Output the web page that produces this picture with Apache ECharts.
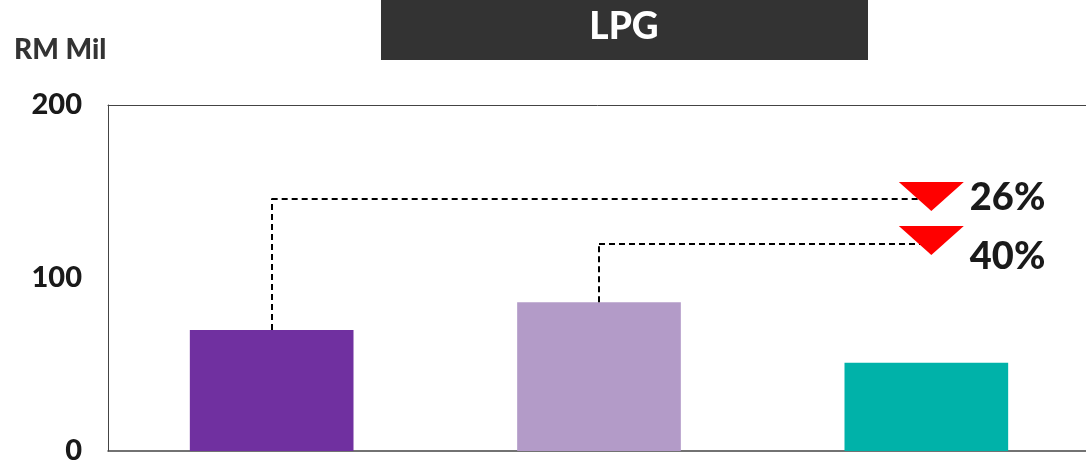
<!DOCTYPE html>
<html>
<head>
<meta charset="utf-8">
<script src="https://cdn.jsdelivr.net/npm/echarts@6/dist/echarts.min.js"></script>
<style>
  html, body { margin: 0; padding: 0; background: #fff; }
  #chart { width: 1086px; height: 462px; }
</style>
</head>
<body>
<div id="chart"></div>
<script>
// chart data
var categories = ['Period 1', 'Period 2', 'Period 3'];
var values = [70, 86, 51];
var barColors = ['#7030A0', '#B39BC8', '#00B2A9'];
var yTicks = [0, 100, 200];
// change markers: [from category, bar value, line level, label]
var changeFrom = ['Period 1', 'Period 2'];
var changeBase = [70, 86];
var changeLevel = [146, 120];
var changeLabels = ['26%', '40%'];

var chart = echarts.init(document.getElementById('chart'));
var font = 'Lato, "Open Sans", sans-serif';

var lines = [];
var points = [];
for (var i = 0; i < changeFrom.length; i++) {
  lines.push([{ coord: [changeFrom[i], changeBase[i]] }, { coord: [changeFrom[i], changeLevel[i]] }]);
  lines.push([{ coord: [changeFrom[i], changeLevel[i]] }, { coord: [categories[2], changeLevel[i]] }]);
  points.push({
    coord: [categories[2], changeLevel[i]],
    symbolOffset: [5, i == 0 ? -2 : -3],
    label: {
      show: true,
      formatter: changeLabels[i],
      position: 'right',
      distance: 6,
      offset: [0, i == 0 ? 1 : 16],
      color: '#1a1a1a',
      fontFamily: font,
      fontWeight: 900,
      fontSize: 38
    }
  });
}

var option = {
  animation: false,
  graphic: [{
    type: 'rect',
    z: -1,
    shape: { x: 381, y: 0, width: 487, height: 60 },
    style: { fill: '#333333' }
  }, {
    type: 'text',
    x: 624,
    y: 27,
    style: { text: 'LPG', fill: '#fff', font: '900 37px ' + font, textAlign: 'center', textVerticalAlign: 'middle' }
  }, {
    type: 'text',
    left: 14,
    top: 36,
    style: { text: 'RM Mil', fill: '#333', font: '900 28px ' + font }
  }],
  grid: { left: 108, top: 105, right: -4, bottom: 11, outerBoundsMode: 'none', containLabel: false },
  xAxis: [{
    type: 'category',
    data: categories,
    axisLine: { lineStyle: { color: '#444', width: 1.5 } },
    axisTick: { show: false },
    axisLabel: { show: false }
  }, {
    type: 'category',
    position: 'top',
    data: categories,
    axisLine: { lineStyle: { color: '#444', width: 1 } },
    axisTick: { show: false },
    axisLabel: { show: false }
  }],
  yAxis: {
    type: 'value',
    min: 0,
    max: 200,
    interval: 100,
    axisLine: { show: true, lineStyle: { color: '#444', width: 1 } },
    axisTick: { show: false },
    splitLine: { show: false },
    axisLabel: {
      margin: 26,
      color: '#1a1a1a',
      fontFamily: font,
      fontWeight: 900,
      fontSize: 29,
      formatter: function (v) { return yTicks.indexOf(v) >= 0 ? String(v) : ''; }
    }
  },
  series: [{
    type: 'bar',
    barWidth: '50%',
    data: values.map(function (v, k) {
      return { value: v, itemStyle: { color: barColors[k] } };
    }),
    markLine: {
      silent: true,
      symbol: ['none', 'none'],
      label: { show: false },
      lineStyle: { color: '#000', type: [6, 4], width: 2 },
      data: lines
    },
    markPoint: {
      silent: true,
      symbol: 'triangle',
      symbolRotate: 180,
      symbolSize: [65, 29],
      itemStyle: { color: '#FF0000' },
      data: points
    }
  }]
};
chart.setOption(option);
window.addEventListener('resize', function () {
  chart.resize();
});
</script>
</body>
</html>
